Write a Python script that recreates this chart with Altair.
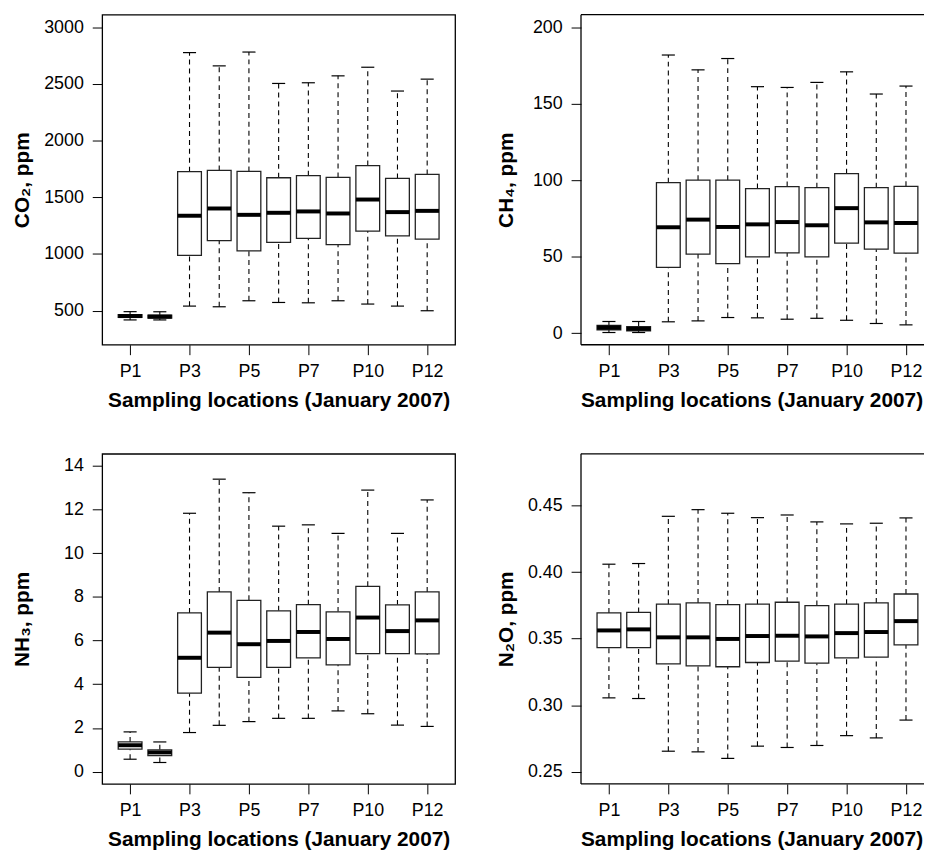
import altair as alt
import pandas as pd

# ---- data ----
sites = ["P1", "P2", "P3", "P4", "P5", "P6", "P7", "P9", "P10", "P11", "P12"]
shown = ["P1", "", "P3", "", "P5", "", "P7", "", "P10", "", "P12"]

co2_lo  = [418, 418, 540, 534, 587, 572, 569, 587, 558, 540, 499]
co2_q1  = [440, 433, 987, 1118, 1027, 1103, 1138, 1083, 1202, 1159, 1130]
co2_med = [452, 447, 1337, 1401, 1345, 1363, 1375, 1357, 1480, 1369, 1380]
co2_q3  = [465, 460, 1726, 1737, 1728, 1672, 1690, 1675, 1780, 1666, 1701]
co2_hi  = [491, 490, 2776, 2659, 2781, 2504, 2510, 2571, 2647, 2437, 2542]

ch4_lo  = [0.4, 0.4, 7.4, 8.0, 10.2, 10.0, 9.1, 9.7, 8.4, 6.3, 5.4]
ch4_q1  = [2.2, 1.5, 43.0, 51.7, 45.4, 49.9, 52.5, 49.9, 58.8, 54.9, 52.3]
ch4_med = [3.7, 2.8, 69.2, 74.2, 69.4, 71.1, 72.6, 70.5, 81.7, 72.4, 72.0]
ch4_q3  = [5.0, 4.3, 98.4, 100.0, 100.0, 94.5, 95.8, 95.1, 104.2, 95.1, 96.0]
ch4_hi  = [7.6, 7.6, 181.8, 172.1, 179.5, 161.1, 160.6, 163.9, 170.8, 156.3, 161.5]

nh3_lo  = [0.57, 0.42, 1.79, 2.12, 2.29, 2.44, 2.44, 2.78, 2.65, 2.13, 2.07]
nh3_q1  = [1.03, 0.73, 3.59, 4.77, 4.31, 4.77, 5.21, 4.89, 5.40, 5.40, 5.39]
nh3_med = [1.21, 0.88, 5.21, 6.36, 5.83, 5.98, 6.39, 6.07, 7.05, 6.43, 6.92]
nh3_q3  = [1.36, 1.00, 7.26, 8.22, 7.84, 7.36, 7.64, 7.31, 8.48, 7.63, 8.22]
nh3_hi  = [1.82, 1.36, 11.82, 13.38, 12.76, 11.23, 11.29, 10.90, 12.88, 10.90, 12.43]

n2o_lo  = [0.3055, 0.3050, 0.2654, 0.2649, 0.2600, 0.2692, 0.2682, 0.2697, 0.2771, 0.2754, 0.2888]
n2o_q1  = [0.3433, 0.3433, 0.3311, 0.3296, 0.3289, 0.3321, 0.3331, 0.3316, 0.3356, 0.3361, 0.3453]
n2o_med = [0.3562, 0.3570, 0.3510, 0.3510, 0.3498, 0.3520, 0.3522, 0.3517, 0.3542, 0.3550, 0.3632]
n2o_q3  = [0.3694, 0.3697, 0.3759, 0.3769, 0.3756, 0.3759, 0.3774, 0.3749, 0.3759, 0.3769, 0.3836]
n2o_hi  = [0.4060, 0.4065, 0.4420, 0.4470, 0.4443, 0.4410, 0.4430, 0.4378, 0.4363, 0.4368, 0.4408]

FONT = "Liberation Sans"
XTITLE = "Sampling locations (January 2007)"
label_expr = "[" + ",".join("'%s'" % s for s in shown) + "][datum.value - 1]"
H = 333


def panel(lo, q1, med, q3, hi, ytitle, ydomain, yvalues, yfmt, width, xmax, title_pad,
          open_right=False):
    df = pd.DataFrame({
        "site": sites,
        "pos": list(range(1, len(sites) + 1)),
        "lo": lo, "q1": q1, "med": med, "q3": q3, "hi": hi,
    })
    xs = alt.Scale(domain=[0.06, xmax], nice=False, zero=False)
    ys = alt.Scale(domain=ydomain, nice=False, zero=False)
    xaxis = alt.Axis(values=list(range(1, len(sites) + 1)), labelExpr=label_expr,
                     labelOverlap=False, grid=False, domain=False, tickSize=10,
                     tickColor="black", labelPadding=8, labelFontSize=18, labelFont=FONT,
                     labelColor="black", title=XTITLE, titleFont=FONT, titleFontSize=21,
                     titleFontWeight="bold", titleColor="black", titlePadding=9)
    yaxis = alt.Axis(values=yvalues, format=yfmt, grid=False, domain=False, tickSize=10,
                     tickColor="black", labelPadding=9, labelFontSize=18, labelFont=FONT,
                     labelColor="black", title=ytitle, titleFont=FONT, titleFontSize=21,
                     titleFontWeight="bold", titleColor="black", titlePadding=title_pad)
    base = alt.Chart(df).transform_calculate(
        xl="datum.pos - 0.4", xr="datum.pos + 0.4",
        cl="datum.pos - 0.22", cr="datum.pos + 0.22",
    )
    whisk_lo = base.mark_rule(color="black", strokeWidth=1.1, strokeDash=[5, 4]).encode(
        x=alt.X("pos:Q", scale=xs, axis=xaxis), y=alt.Y("lo:Q", scale=ys, axis=yaxis), y2="q1:Q")
    whisk_hi = base.mark_rule(color="black", strokeWidth=1.1, strokeDash=[5, 4]).encode(
        x=alt.X("pos:Q", scale=xs), y=alt.Y("q3:Q", scale=ys), y2="hi:Q")
    cap_lo = base.mark_rule(color="black", strokeWidth=1.2).encode(
        x=alt.X("cl:Q", scale=xs), x2="cr:Q", y=alt.Y("lo:Q", scale=ys))
    cap_hi = base.mark_rule(color="black", strokeWidth=1.2).encode(
        x=alt.X("cl:Q", scale=xs), x2="cr:Q", y=alt.Y("hi:Q", scale=ys))
    box = base.mark_rect(fill="white", stroke="#222222", strokeWidth=1.3).encode(
        x=alt.X("xl:Q", scale=xs), x2="xr:Q", y=alt.Y("q1:Q", scale=ys), y2="q3:Q")
    median = base.mark_rule(color="black", strokeWidth=4).encode(
        x=alt.X("xl:Q", scale=xs), x2="xr:Q", y=alt.Y("med:Q", scale=ys))
    layers = [whisk_lo, whisk_hi, cap_lo, cap_hi, box, median]
    if open_right:
        # plot frame cut off at the page's right edge: draw top, bottom and left sides only
        frame = alt.Chart(df.head(1))
        layers += [
            frame.mark_rule(color="black", strokeWidth=1.3).encode(
                x=alt.value(0), x2=alt.value(width + 2), y=alt.value(0)),
            frame.mark_rule(color="black", strokeWidth=1.3).encode(
                x=alt.value(0), x2=alt.value(width + 2), y=alt.value(H)),
            frame.mark_rule(color="black", strokeWidth=1.3).encode(
                x=alt.value(0), y=alt.value(0), y2=alt.value(H)),
        ]
        return alt.layer(*layers).properties(
            width=width, height=H, view=alt.ViewBackground(strokeOpacity=0))
    return alt.layer(*layers).properties(width=width, height=H)


W_L, W_R = 356, 344
X_L, X_R = 11.94, 11.54

co2 = panel(co2_lo, co2_q1, co2_med, co2_q3, co2_hi, "CO₂, ppm", [199, 3111],
            [500, 1000, 1500, 2000, 2500, 3000], "d", W_L, X_L, 11)
ch4 = panel(ch4_lo, ch4_q1, ch4_med, ch4_q3, ch4_hi, "CH₄, ppm", [-7.6, 208.2],
            [0, 50, 100, 150, 200], "d", W_R, X_R, 16, open_right=True)
nh3 = panel(nh3_lo, nh3_q1, nh3_med, nh3_q3, nh3_hi, "NH₃, ppm", [-0.56, 14.54],
            [0, 2, 4, 6, 8, 10, 12, 14], "d", W_L, X_L, 31)
n2o = panel(n2o_lo, n2o_q1, n2o_med, n2o_q3, n2o_hi, "N₂O, ppm", [0.2408, 0.489],
            [0.25, 0.30, 0.35, 0.40, 0.45], ".2f", W_R, X_R, 11, open_right=True)

chart = alt.vconcat(
    alt.hconcat(co2, ch4, spacing=39),
    alt.hconcat(nh3, n2o, spacing=39),
    spacing=42,
).properties(
    padding={"left": 3, "top": 2, "right": 0, "bottom": 0},
    background="white",
).configure_view(
    stroke="black", strokeWidth=1.3
)

chart.save("out.html", embed_options={"renderer": "svg", "actions": False})
